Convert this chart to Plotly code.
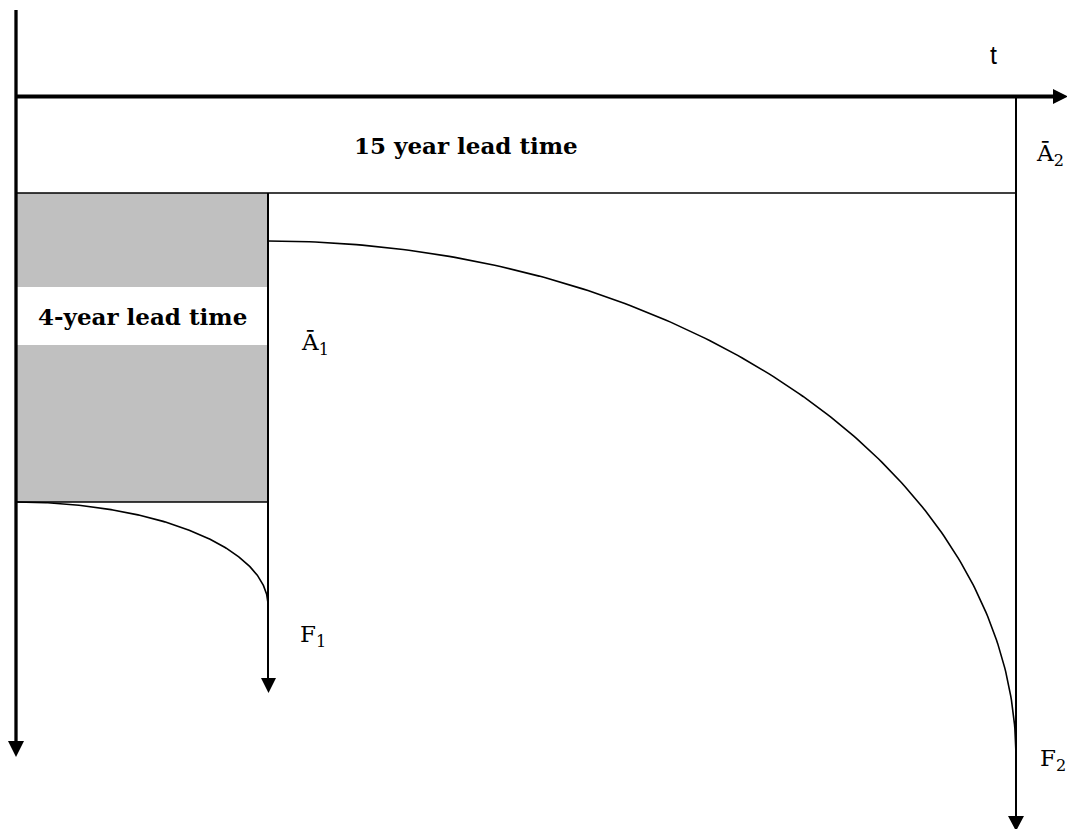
import numpy as np
import plotly.graph_objects as go

# ---- diagram content (schematic coordinates, pixel-like units) ----
lead_labels = ["4-year lead time", "15 year lead time"]
series_labels = ["Ā<sub>1</sub>", "Ā<sub>2</sub>", "F<sub>1</sub>", "F<sub>2</sub>"]
axis_label = "t"

# boxes: x0, x1, y0, y1
box_short = [16, 268, 193, 502]
box_long = [16, 1016, 96, 193]
band_short = [287, 345]

# quarter-ellipse curves: (x_start, y_start, x_end, y_end)
curve_short = [16, 502, 268, 605]
curve_long = [268, 241, 1016, 757]

W, H = 1067, 829
FONT = "DejaVu Serif"

fig = go.Figure()


def quarter_ellipse(c):
    xs, ys, xe, ye = c
    th = np.linspace(0, np.pi / 2, 200)
    cx, cy = xs, ye
    rx, ry = xe - xs, ye - ys
    return cx + rx * np.sin(th), cy - ry * np.cos(th)


for c in (curve_short, curve_long):
    x, y = quarter_ellipse(c)
    fig.add_trace(go.Scatter(x=x, y=y, mode="lines",
                             line=dict(color="black", width=1.6),
                             hoverinfo="skip", showlegend=False))

shapes = []
shapes.append(dict(type="rect", x0=box_short[0], x1=box_short[1], y0=box_short[2], y1=box_short[3],
                   fillcolor="#c0c0c0", line=dict(width=0), layer="below"))
shapes.append(dict(type="rect", x0=box_short[0], x1=box_short[1], y0=band_short[0], y1=band_short[1],
                   fillcolor="white", line=dict(width=0), layer="below"))
shapes.append(dict(type="line", x0=box_short[0], x1=box_short[1], y0=box_short[3], y1=box_short[3],
                   line=dict(color="black", width=1.6)))
shapes.append(dict(type="line", x0=box_long[0], x1=box_long[1], y0=box_long[3], y1=box_long[3],
                   line=dict(color="black", width=1.6)))
shapes.append(dict(type="line", x0=box_short[1], x1=box_short[1], y0=box_short[2], y1=680,
                   line=dict(color="black", width=2)))
shapes.append(dict(type="path", path="M 261 678 L 276 678 L 268.5 693 Z",
                   fillcolor="black", line=dict(width=0)))
shapes.append(dict(type="line", x0=box_long[1], x1=box_long[1], y0=box_long[2], y1=818,
                   line=dict(color="black", width=2)))
shapes.append(dict(type="path", path="M 1008 816 L 1024 816 L 1016 831 Z",
                   fillcolor="black", line=dict(width=0)))
shapes.append(dict(type="line", x0=16, x1=16, y0=10, y1=744,
                   line=dict(color="black", width=3.3)))
shapes.append(dict(type="path", path="M 8 741 L 24 741 L 16 757 Z",
                   fillcolor="black", line=dict(width=0)))
shapes.append(dict(type="line", x0=16, x1=1057, y0=96.5, y1=96.5,
                   line=dict(color="black", width=4)))
shapes.append(dict(type="path", path="M 1053 89 L 1068 96.5 L 1053 104 Z",
                   fillcolor="black", line=dict(width=0)))

annotations = [
    dict(x=142, y=316, text="<b>" + lead_labels[0] + "</b>", font=dict(size=23, family=FONT)),
    dict(x=466, y=145, text="<b>" + lead_labels[1] + "</b>", font=dict(size=23, family=FONT)),
    dict(x=315, y=344, text=series_labels[0], font=dict(size=23, family=FONT)),
    dict(x=1050, y=155, text=series_labels[1], font=dict(size=23, family=FONT)),
    dict(x=313, y=636, text=series_labels[2], font=dict(size=23, family=FONT)),
    dict(x=1053, y=760, text=series_labels[3], font=dict(size=23, family=FONT)),
    dict(x=993, y=55, text=axis_label, font=dict(size=25, family="Liberation Sans")),
]
for a in annotations:
    a.update(xref="x", yref="y", showarrow=False, xanchor="center", yanchor="middle")
    a["font"].update(color="black")

fig.update_layout(
    width=W, height=H,
    margin=dict(l=0, r=0, t=0, b=0),
    paper_bgcolor="white", plot_bgcolor="white",
    xaxis=dict(range=[0, W], visible=False, fixedrange=True),
    yaxis=dict(range=[H, 0], visible=False, fixedrange=True),
    shapes=shapes, annotations=annotations,
    showlegend=False,
)

fig.write_html("out.html", config={"displayModeBar": False},
               post_script="document.body.style.margin='0';document.body.style.overflow='hidden';")
